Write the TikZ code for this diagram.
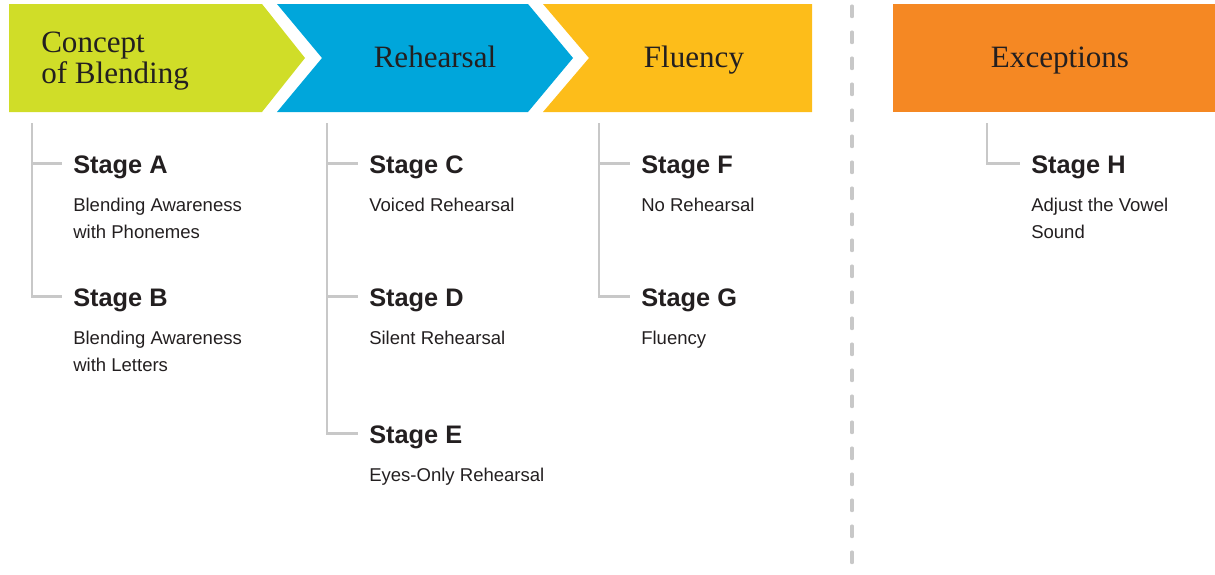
\documentclass[tikz,border=0pt]{standalone}
\usepackage{fontspec}
\setmainfont{Liberation Serif}
\setsansfont{Liberation Sans}
\definecolor{chevgreen}{HTML}{D0DD28}
\definecolor{chevblue}{HTML}{00A6DB}
\definecolor{chevyellow}{HTML}{FDBD1A}
\definecolor{excorange}{HTML}{F58823}
\definecolor{treegray}{HTML}{C8C8C8}
\definecolor{inkdark}{HTML}{231F20}
\newcommand\desclines[1]{\begin{tabular}[t]{@{}l@{}}#1\end{tabular}}
\tikzset{
  head/.style={font=\fontsize{23.3}{23.25}\selectfont, text=inkdark, inner sep=0pt},
  stage/.style={font=\sffamily\bfseries\fontsize{19}{22}\selectfont, text=inkdark,
    inner xsep=8.25pt, inner ysep=0pt, text height=13.6pt, text depth=0pt, anchor=base west},
  desc/.style={font=\sffamily\fontsize{13.9}{20.25}\selectfont, text=inkdark,
    inner sep=0pt, anchor=base west}
  ,branch/.style={draw=treegray, line width=2.2pt, line join=miter}
}
\begin{document}
\begin{tikzpicture}[x=0.75pt, y=-0.75pt, line join=round]
	\useasboundingbox (0,0) rectangle (1215,575);
	% header band
	\fill[chevgreen] (9,4) -- (262,4) -- (305,58) -- (262,112) -- (9,112) -- cycle;
	\fill[chevblue] (277,4) -- (528,4) -- (573,58) -- (528,112) -- (277,112) -- (322,58) -- cycle;
	\fill[chevyellow] (543,4) -- (812,4) -- (812,112) -- (543,112) -- (589,58) -- cycle;
	\fill[excorange] (893,4) rectangle (1215,112);
	\node[head, anchor=base west, align=left] (hConcept) at (41,83) {Concept\\of Blending};
	\node[head, anchor=base] (hRehearsal) at (435,67) {Rehearsal};
	\node[head, anchor=base] (hFluency) at (694,67) {Fluency};
	\node[head, anchor=base] (hExceptions) at (1060,67) {Exceptions};
	% separator
	\draw[treegray, line width=2.3pt, line cap=round, dash pattern=on 8pt off 11.5pt]
		(852,6) -- (852,575);
	% stages
	\path
	(32,123) coordinate (t1)
	(327,123) coordinate (t2)
	(599,123) coordinate (t3)
	(987,123) coordinate (t4);
	\foreach \n/\x/\y/\d in {A/62/173/{Blending Awareness\\with Phonemes},
		B/62/306/{Blending Awareness\\with Letters},
		C/358/173/{Voiced Rehearsal},
		D/358/306/{Silent Rehearsal},
		E/358/443/{Eyes-Only Rehearsal},
		F/630/173/{No Rehearsal},
		G/630/306/{Fluency},
		H/1020/173/{Adjust the Vowel\\Sound}}
	{
		\node[stage] (st\n) at (\x,\y) {Stage \n};
		\node[desc] (ds\n) at ([xshift=8.25pt, yshift=-28.5pt]st\n.base west) {\desclines{\d}};
	}
	\draw[branch] (t1) |- (stB.west) (t1 |- stA.west) -- (stA.west);
	\draw[branch] (t2) |- (stE.west) (t2 |- stC.west) -- (stC.west)
		(t2 |- stD.west) -- (stD.west);
	\draw[branch] (t3) |- (stG.west) (t3 |- stF.west) -- (stF.west);
	\draw[branch] (t4) |- (stH.west);
\end{tikzpicture}
\end{document}
